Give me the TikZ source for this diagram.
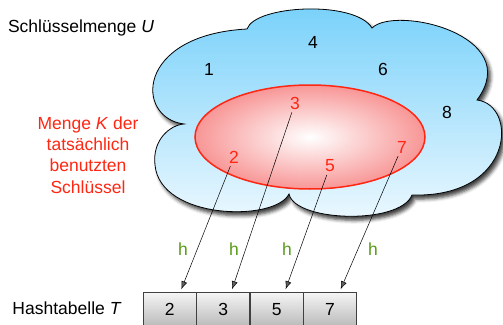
\documentclass[tikz,border=0pt]{standalone}
\usepackage{fontspec}
\setmainfont{Liberation Sans}
\usetikzlibrary{arrows.meta,shadows.blur}
\definecolor{cloudtop}{RGB}{118,208,250}
\definecolor{cloudbot}{RGB}{238,249,255}
\definecolor{kred}{RGB}{255,38,18}
\definecolor{kpink}{RGB}{248,150,150}
\definecolor{hgreen}{RGB}{88,155,22}
\begin{document}
\begin{tikzpicture}[x=1pt,y=-1pt,
  lbl/.style={font=\fontsize{17.5}{21.3}\selectfont, inner sep=1pt},
  num/.style={lbl},
  rnum/.style={lbl,text=kred},
  hlbl/.style={lbl,text=hgreen},
  cloudshape/.style={draw=black,line width=0.8pt,top color=cloudtop,bottom color=cloudbot,
    blur shadow={shadow xshift=3pt,shadow yshift=-4pt,shadow blur radius=3.5pt,shadow opacity=75}},
  kset/.style={draw=kred,line width=1.5pt,inner color=white,outer color=kpink},
  cell/.style={draw=black!75,line width=0.7pt,top color=black!4,bottom color=black!27,
    minimum width=52.75pt,minimum height=34pt,inner sep=0pt,anchor=north west,
    font=\fontsize{17.5}{21}\selectfont},
  map/.style={-{Latex[length=8pt,width=6pt]},line width=0.5pt,shorten >=3pt,shorten <=2pt}]
\useasboundingbox (0,0) rectangle (503,324);
% cloud
\path[cloudshape] (247,29) .. controls (255,5) and (355,0) .. (372,28)
 .. controls (395,5) and (525,35) .. (477,100)
 .. controls (518,105) and (515,198) .. (412,195)
 .. controls (400,225) and (295,222) .. (289,194)
 .. controls (275,222) and (160,220) .. (155,165)
 .. controls (152,140) and (170,125) .. (184,124)
 .. controls (135,118) and (135,35) .. (247,29) -- cycle;
% set K
\path[kset] (310,137) ellipse [x radius=115, y radius=52];
% labels
\node[lbl] (U) at (81,28) {Schlüsselmenge \textit{U}};
\node[lbl,text=kred,align=center] (ktext) at (88,155) {Menge \textit{K} der\\tatsächlich\\benutzten\\Schlüssel};
\node[lbl] (T) at (67,308) {Hashtabelle \textit{T}};
% numbers
\node[num] (n1) at (209,69) {1};
\node[num] (n4) at (313,42) {4};
\node[num] (n6) at (383,69) {6};
\node[num] (n8) at (447,112) {8};
\node[rnum] (n3) at (295,103) {3};
\node[rnum] (n2) at (234,157) {2};
\node[rnum] (n5) at (330,166) {5};
\node[rnum] (n7) at (402,147) {7};
% table
\node[cell] (c2) at (143,292) {2};
\node[cell] (c3) at (c2.north east) {3};
\node[cell] (c5) at (c3.north east) {5};
\node[cell] (c7) at (c5.north east) {7};
% targets
\coordinate (t2) at ([xshift=10.5pt]c2.north);
\coordinate (t3) at ([xshift=8pt]c3.north);
\coordinate (t5) at ([xshift=8pt]c5.north);
\coordinate (t7) at ([xshift=9.4pt]c7.north);
\draw[map] (n2) -- (t2);
\draw[map] (n3) -- (t3);
\draw[map] (n5) -- (t5);
\draw[map] (n7) -- (t7);
% h labels
\node[hlbl] (h2) at (183,249) {h};
\node[hlbl] (h3) at (234,249) {h};
\node[hlbl] (h5) at (287,249) {h};
\node[hlbl] (h7) at (373,249) {h};
\end{tikzpicture}
\end{document}
